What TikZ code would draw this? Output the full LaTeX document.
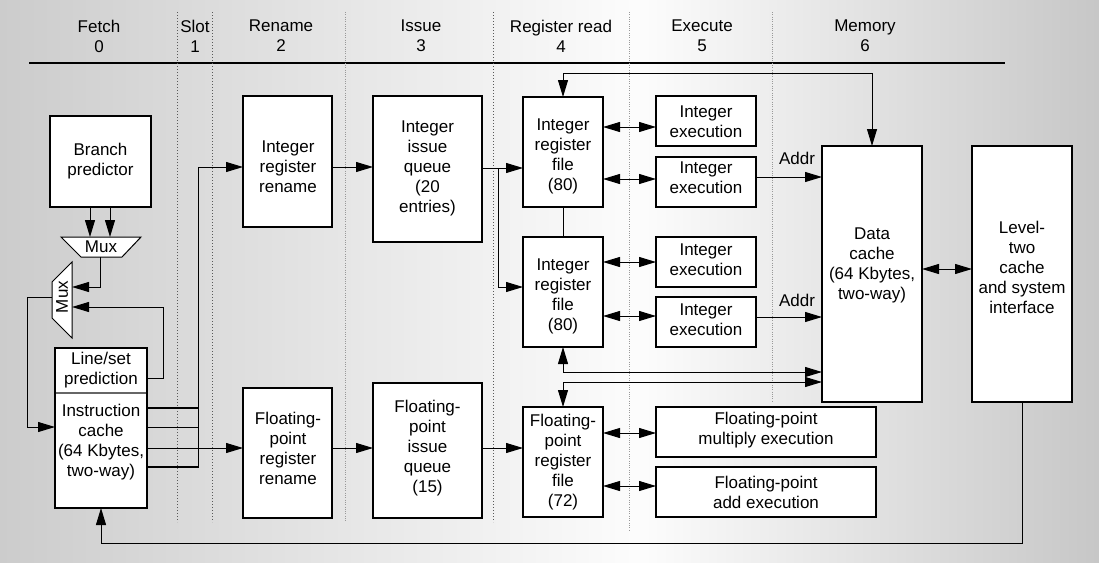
\documentclass[tikz,border=0pt]{standalone}
\usepackage{fontspec}
\setmainfont{Liberation Sans}
\usetikzlibrary{arrows.meta}
\newcommand\mybox[5]{\node[box,minimum width={(#4-#2)*1pt},minimum height={(#5-#3)*1pt}] (#1) at ({(#2+#4)/2},{(#3+#5)/2}) {};}
\begin{document}
\begin{tikzpicture}[x=1pt,y=-1pt,
  box/.style={draw,fill=white,line width=1.5pt,inner sep=0pt,outer sep=0pt},
  txt/.style={font=\fontsize{17}{20}\selectfont,align=center,inner sep=0pt},
  conn/.style={line width=1pt},
  arr/.style={conn,-{Triangle[length=17pt,width=10pt]}},
  dbl/.style={conn,{Triangle[length=17pt,width=10pt]}-{Triangle[length=17pt,width=10pt]}},
  bus/.style={line width=2.2pt},
  stage/.style={line width=0.8pt,black!65,dash pattern=on 0.9pt off 2.1pt},
  stagel/.style={line width=0.8pt,black!40,dash pattern=on 0.9pt off 1.4pt},
  muxs/.style={draw,fill=white,line width=1pt}]
\useasboundingbox (0,0) rectangle (1099,562);
\shade[left color=black!20,right color=black!1] (0,0) rectangle (640.5,562);
\shade[left color=black!1,right color=black!22] (640,0) rectangle (1099,562);

% header
\draw[line width=1.2pt] (29,63) -- (1005,63);
\node[txt] (s0) at (99,36) {Fetch\\0};
\node[txt] (s1) at (195,36) {Slot\\1};
\node[txt] (s2) at (281,36) {Rename\\2};
\node[txt] (s3) at (421,36) {Issue\\3};
\node[txt] (s4) at (561,36) {Register read\\4};
\node[txt] (s5) at (702,36) {Execute\\5};
\node[txt] (s6) at (865,36) {Memory\\6};

% stage separators
\foreach \x/\yb in {177/522,212/522,493/522} \draw[stage] (\x,12) -- (\x,\yb);
\foreach \x/\yb in {345/522,629/531,772/402} \draw[stagel] (\x,12) -- (\x,\yb);

% boxes
\mybox{bp}{50}{116}{151}{207}
\mybox{lsp}{55}{348}{147}{393}
\mybox{ic}{55}{393}{147}{508}
\mybox{irr}{243}{96}{332}{227}
\mybox{iiq}{373}{96}{482}{242}
\mybox{frr}{243}{388}{332}{518}
\mybox{fiq}{373}{383}{482}{518}
\mybox{irfa}{523}{97}{603}{207}
\mybox{irfb}{523}{237}{603}{347}
\mybox{frf}{523}{407}{603}{517}
\mybox{iea}{656}{96}{756}{146}
\mybox{ieb}{656}{157}{756}{207}
\mybox{iec}{656}{237}{756}{287}
\mybox{ied}{656}{297}{756}{347}
\mybox{fm}{656}{407}{876}{457}
\mybox{fa}{656}{467}{876}{517}
\mybox{dc}{822}{146}{922}{402}
\mybox{ltwo}{972}{146}{1072}{402}
\draw[line width=1.5pt,black!60] ([xshift=0.75pt]lsp.south west) -- ([xshift=-0.75pt]lsp.south east);

% muxes
\draw[muxs] (61,237) -- (141,237) -- (122,257) -- (81,257) -- cycle;
\draw[muxs] (72,262) -- (72,338) -- (52,318) -- (52,282) -- cycle;
\node[txt] (mux1) at (101,247) {Mux};
\node[txt,rotate=90] (mux2) at (62,297) {Mux};
\coordinate (m1t) at (100,237);
\coordinate (m1b) at (100,257);
\coordinate (m2in1) at (72,287);
\coordinate (m2in2) at (72,307);
\coordinate (m2out) at (52,297);

% texts
\node[txt] (bpT) at (100.5,161.5) {Branch\\predictor};
\node[txt] (lspT) at (101,370.5) {Line/set\\prediction};
\node[txt] (icT) at (101,442.5) {Instruction\\cache\\(64 Kbytes,\\two-way)};
\node[txt] (irrT) at (288,167) {Integer\\register\\rename};
\node[txt] (iiqT) at (427.5,168) {Integer\\issue\\queue\\(20\\entries)};
\node[txt] (frrT) at (288,448.5) {Floating-\\point\\register\\rename};
\node[txt] (fiqT) at (427.5,448) {Floating-\\point\\issue\\queue\\(15)};
\node[txt] (irfaT) at (563,156) {Integer\\register\\file\\(80)};
\node[txt] (irfbT) at (563,296) {Integer\\register\\file\\(80)};
\node[txt] (frfT) at (563,462) {Floating-\\point\\register\\file\\(72)};
\node[txt] (ieaT) at (706,122) {Integer\\execution};
\node[txt] (iebT) at (706,178) {Integer\\execution};
\node[txt] (iecT) at (706,260) {Integer\\execution};
\node[txt] (iedT) at (706,320) {Integer\\execution};
\node[txt] (fmT) at (766,430.5) {Floating-point\\multiply execution};
\node[txt] (faT) at (766,492.5) {Floating-point\\add execution};
\node[txt] (dcT) at (872,265.5) {Data\\cache\\(64 Kbytes,\\two-way)};
\node[txt] (ltwoT) at (1022,267) {Level-\\two\\cache\\and system\\interface};
\node[txt] (addrA) at (797,158) {Addr};
\node[txt] (addrB) at (797,300) {Addr};

% coordinates for connectors
\coordinate (busT) at (198,167);
\coordinate (j1) at (198,408);
\coordinate (j2) at (198,427);
\coordinate (j4) at (198,467);
\coordinate (fp) at (198,448);
\coordinate (r1) at (340,167);
\coordinate (q1) at (498,168);
\coordinate (q2) at (498,287);
\coordinate (t1) at (563,73);
\coordinate (t2) at (872,73);
\coordinate (a1) at (630,127);
\coordinate (a2) at (630,179);
\coordinate (a3) at (630,262);
\coordinate (a4) at (630,316);
\coordinate (a5) at (630,433);
\coordinate (a6) at (630,486);
\coordinate (d1) at (790,177);
\coordinate (d2) at (790,317);
\coordinate (e1) at (563,372);
\coordinate (e2) at (563,382);
\coordinate (g1) at (947,269);
\coordinate (h1) at (1022,543);
\coordinate (h2) at (101,543);
\coordinate (lspo) at (150,378);
\coordinate (b1) at (163,307);
\coordinate (b2) at (27,297);
\coordinate (icin) at (40,427);

% fetch connectors
\draw[arr] ([xshift=-10.5pt]bp.south) -- ([xshift=-10pt]m1t);
\draw[arr] ([xshift=9.5pt]bp.south) -- ([xshift=10pt]m1t);
\draw[arr] (m1b) |- (m2in1);
\draw[arr] (lsp.east |- lspo) -| (b1) -- (m2in2);
\draw[arr] (m2out) -- (b2) |- (ic.west |- icin);

% instruction buses
\draw[bus] (ic.east |- j1) -- ([xshift=0.5pt]j1);
\draw[conn] (ic.east |- j2) -- (j2);
\draw[bus] (ic.east |- j4) -- ([xshift=0.5pt]j4);
\draw[conn] (j4) -- (busT);
\draw[arr] (busT) -- (irr.west |- busT);
\draw[arr] (ic.east |- fp) -- (frr.west |- fp);

% rename / issue
\draw[arr] (irr.east |- r1) -- (iiq.west |- r1);
\draw[arr] (frr.east |- fp) -- (fiq.west |- fp);
\draw[arr] (iiq.east |- q1) -- (irfa.west |- q1);
\draw[arr] (q1) -- (q2) -- (irfb.west |- q2);
\draw[arr] (fiq.east |- fp) -- (frf.west |- fp);
\draw[conn] (irfa.south) -- (irfb.north);

% register files / execution
\draw[dbl] (irfa.north) -- (t1) -- (t2) -- (dc.north);
\draw[dbl] (irfa.east |- a1) -- (iea.west |- a1);
\draw[dbl] (irfa.east |- a2) -- (ieb.west |- a2);
\draw[dbl] (irfb.east |- a3) -- (iec.west |- a3);
\draw[dbl] (irfb.east |- a4) -- (ied.west |- a4);
\draw[dbl] (frf.east |- a5) -- (fm.west |- a5);
\draw[dbl] (frf.east |- a6) -- (fa.west |- a6);
\draw[arr] (ieb.east |- d1) -- (dc.west |- d1);
\draw[arr] (ied.east |- d2) -- (dc.west |- d2);
\draw[dbl] (irfb.south) -- (e1) -- (dc.west |- e1);
\draw[dbl] (frf.north) -- (e2) -- (dc.west |- e2);

% memory
\draw[dbl] (dc.east |- g1) -- (ltwo.west |- g1);
\draw[arr] (ltwo.south) -- (h1) -- (h2) -- (ic.south);
\end{tikzpicture}
\end{document}
